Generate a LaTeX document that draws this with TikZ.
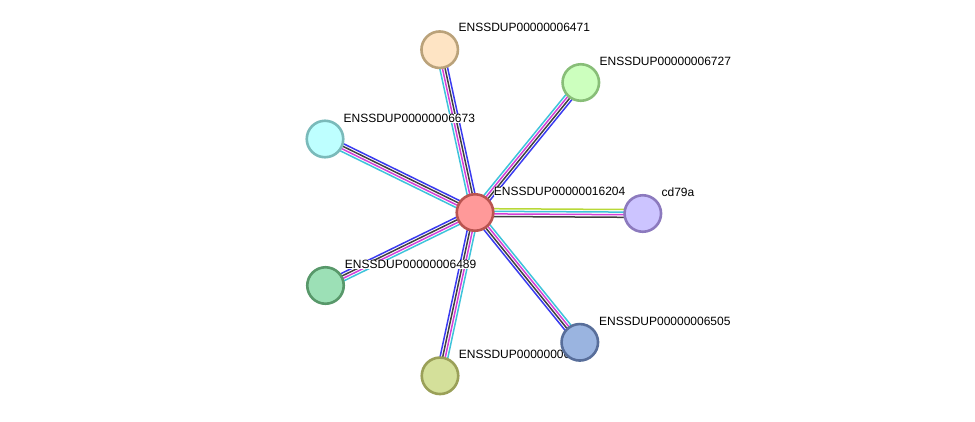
\documentclass[tikz,border=0pt]{standalone}
\usepackage{fontspec}
\setmainfont{Liberation Sans}
\usetikzlibrary{calc}
\pgfdeclarelayer{edges}
\pgfdeclarelayer{labels}
\pgfsetlayers{edges,labels,main}
\definecolor{ecyan}{HTML}{3EC3DA}
\definecolor{emag}{HTML}{D43FD8}
\definecolor{edark}{HTML}{404040}
\definecolor{eblue}{HTML}{3A3AF0}
\definecolor{eyel}{HTML}{B8D838}
\tikzset{
  prot/.style={circle, inner sep=0pt, minimum size=36.5pt, line width=2.6pt},
  lbl/.style={anchor=base west, inner sep=0.4pt, fill=white, font=\fontsize{12}{14}\selectfont, text=black},
  edgeline/.style={line width=1.5pt},
}
\newcommand\edgefour[6]{%
  \foreach \cc/\dd in {#3/3.9pt, #4/1.3pt, #5/-1.3pt, #6/-3.9pt}{%
    \draw[edgeline, draw=\cc] ($(#1.center)!\dd!90:(#2.center)$) -- ($(#2.center)!\dd!-90:(#1.center)$);
  }}
\begin{document}
\begin{tikzpicture}[x=1pt,y=-1pt]
\useasboundingbox (0,0) rectangle (975,421);
% proteins
\node[prot, fill={rgb,255:red,255;green,153;blue,153}, draw={rgb,255:red,186;green,84;blue,80}] (c) at (475,212.5) {};
\node[prot, fill={rgb,255:red,254;green,228;blue,196}, draw={rgb,255:red,186;green,162;blue,122}] (n6471) at (439.7,49.7) {};
\node[prot, fill={rgb,255:red,204;green,255;blue,190}, draw={rgb,255:red,136;green,190;blue,120}] (n6727) at (580.8,82.5) {};
\node[prot, fill={rgb,255:red,190;green,255;blue,255}, draw={rgb,255:red,122;green,186;blue,186}] (n6673) at (325,139) {};
\node[prot, fill={rgb,255:red,204;green,196;blue,255}, draw={rgb,255:red,140;green,122;blue,190}] (cd79a) at (642.8,213.5) {};
\node[prot, fill={rgb,255:red,156;green,224;blue,182}, draw={rgb,255:red,88;green,152;blue,106}] (n6489) at (325.5,285.5) {};
\node[prot, fill={rgb,255:red,154;green,180;blue,224}, draw={rgb,255:red,88;green,110;blue,154}] (n6505) at (579.8,342.3) {};
\node[prot, fill={rgb,255:red,212;green,224;blue,154}, draw={rgb,255:red,154;green,160;blue,88}] (nbot) at (440,375.8) {};
% labels
\begin{pgfonlayer}{labels}
\node[lbl] (lc) at (493.3,195.7) {ENSSDUP00000016204};
\node[lbl] (l6471) at (458,31.7) {ENSSDUP00000006471};
\node[lbl] (l6727) at (599,65.7) {ENSSDUP00000006727};
\node[lbl] (l6673) at (343,122.3) {ENSSDUP00000006673};
\node[lbl] (lcd) at (661,196) {cd79a};
\node[lbl] (l6489) at (344.3,268.3) {ENSSDUP00000006489};
\node[lbl] (l6505) at (598.5,325) {ENSSDUP00000006505};
\node[lbl] (lbot) at (458.3,358.3) {ENSSDUP00000006498};
\end{pgfonlayer}
% edges
\begin{pgfonlayer}{edges}
\edgefour{c}{n6471}{ecyan}{emag}{edark}{eblue}
\edgefour{c}{n6727}{ecyan}{emag}{edark}{eblue}
\edgefour{c}{n6673}{ecyan}{emag}{edark}{eblue}
\edgefour{c}{n6489}{ecyan}{emag}{edark}{eblue}
\edgefour{c}{nbot}{ecyan}{emag}{edark}{eblue}
\edgefour{c}{n6505}{ecyan}{emag}{edark}{eblue}
\edgefour{c}{cd79a}{eyel}{ecyan}{emag}{edark}
\end{pgfonlayer}
\end{tikzpicture}
\end{document}
